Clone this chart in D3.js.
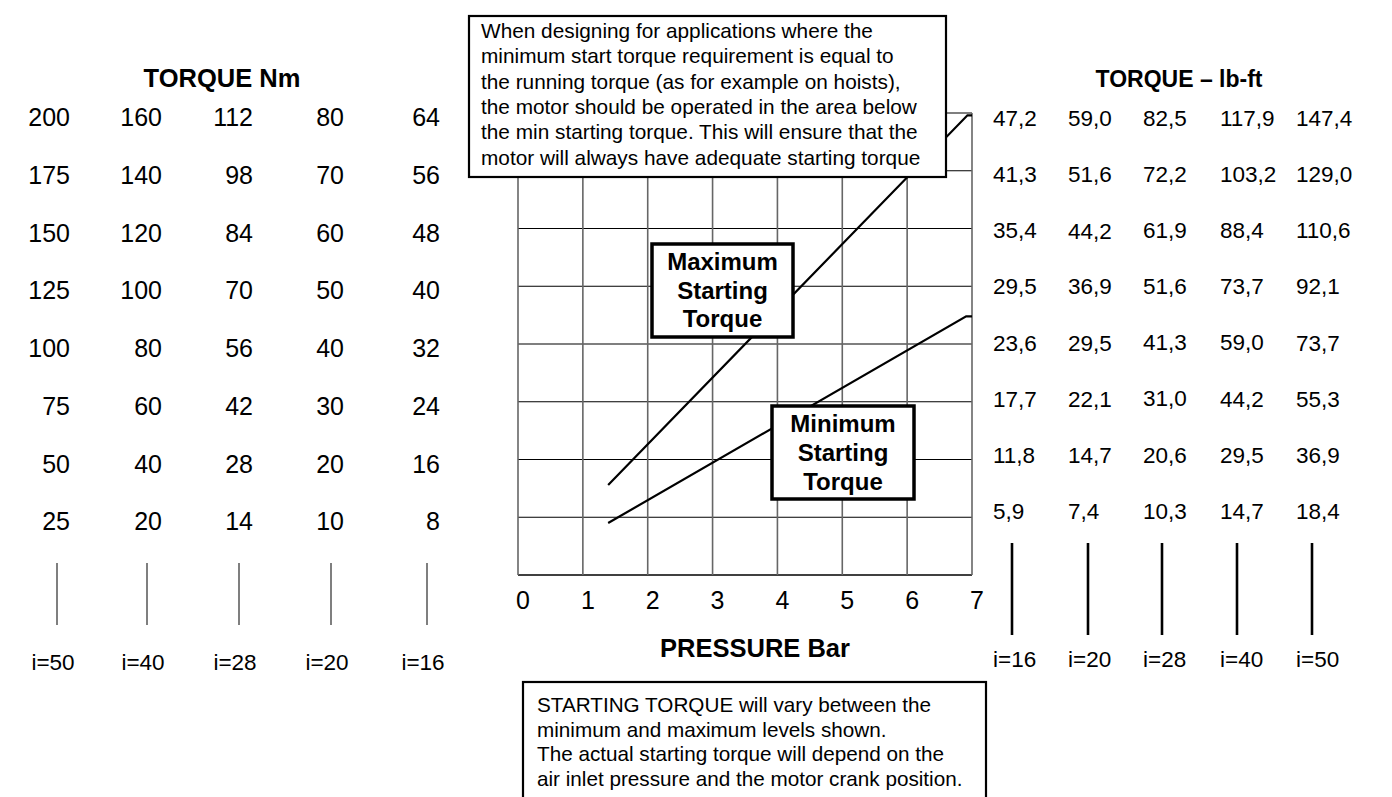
<!DOCTYPE html>
<html>
<head>
<meta charset="utf-8">
<script src="https://cdn.jsdelivr.net/npm/d3@7/dist/d3.min.js"></script>
<style>
  html, body { margin: 0; padding: 0; background: #fff; }
  svg { display: block; font-family: "Liberation Sans", Arial, Helvetica, sans-serif; }
</style>
</head>
<body>
<svg id="chart" width="1392" height="797"></svg>
<script>
// ---------------- DATA ----------------
const pressureTicks = [0, 1, 2, 3, 4, 5, 6, 7];

// Torque Nm columns (left), by gear ratio i
const nmRatios = ["i=50", "i=40", "i=28", "i=20", "i=16"];
const nmI50 = [200, 175, 150, 125, 100, 75, 50, 25];
const nmI40 = [160, 140, 120, 100, 80, 60, 40, 20];
const nmI28 = [112, 98, 84, 70, 56, 42, 28, 14];
const nmI20 = [80, 70, 60, 50, 40, 30, 20, 10];
const nmI16 = [64, 56, 48, 40, 32, 24, 16, 8];

// Torque lb-ft columns (right), by gear ratio i
const lbftRatios = ["i=16", "i=20", "i=28", "i=40", "i=50"];
const lbftI16 = ["47,2", "41,3", "35,4", "29,5", "23,6", "17,7", "11,8", "5,9"];
const lbftI20 = ["59,0", "51,6", "44,2", "36,9", "29,5", "22,1", "14,7", "7,4"];
const lbftI28 = ["82,5", "72,2", "61,9", "51,6", "41,3", "31,0", "20,6", "10,3"];
const lbftI40 = ["117,9", "103,2", "88,4", "73,7", "59,0", "44,2", "29,5", "14,7"];
const lbftI50 = ["147,4", "129,0", "110,6", "92,1", "73,7", "55,3", "36,9", "18,4"];

// Starting torque curves: pressure (bar) vs torque (Nm, i=50 scale)
const maxStartPressure = [1.39, 6.93, 7.0];
const maxStartTorque = [39, 199, 199];
const minStartPressure = [1.39, 6.91, 7.0];
const minStartTorque = [22.5, 112, 112];

const noteTop = [
  "When designing for applications where the",
  "minimum start torque requirement is equal to",
  "the running torque (as for example on hoists),",
  "the motor should be operated in the area below",
  "the min starting torque. This will ensure that the",
  "motor will always have adequate starting torque"
];
const noteBottom = [
  "STARTING TORQUE will vary between the",
  "minimum and maximum levels shown.",
  "The actual starting torque will depend on the",
  "air inlet pressure and the motor crank position."
];

// ---------------- DRAWING ----------------
const svg = d3.select("#chart");
svg.append("rect").attr("width", 1392).attr("height", 797).attr("fill", "#fff");

const x = d3.scaleLinear().domain([0, 7]).range([518, 972]);
const y = d3.scaleLinear().domain([0, 200]).range([575, 113]);
const yTicks = d3.range(0, 201, 25);

const g = svg.append("g");

// horizontal grid lines
g.selectAll("line.h").data(yTicks).join("line")
  .attr("x1", x(0)).attr("x2", x(7))
  .attr("y1", d => y(d)).attr("y2", d => y(d))
  .attr("stroke", "#000").attr("stroke-width", d => d === 0 ? 1.5 : 1.2);

// vertical grid lines
g.selectAll("line.v").data(pressureTicks).join("line")
  .attr("x1", d => x(d)).attr("x2", d => x(d))
  .attr("y1", y(200)).attr("y2", y(0))
  .attr("stroke", "#666").attr("stroke-width", 1.6);

// x tick labels
g.selectAll("text.xt").data(pressureTicks).join("text")
  .attr("x", d => x(d) + 5).attr("y", 609)
  .attr("text-anchor", "middle").attr("font-size", 25).attr("fill", "#000")
  .text(d => d);

svg.append("text").attr("x", 755).attr("y", 657).attr("text-anchor", "middle")
  .attr("font-size", 25.5).attr("font-weight", "bold").text("PRESSURE Bar");

// curves
const line = d3.line().x(d => x(d[0])).y(d => y(d[1]));
const maxPts = maxStartPressure.map((p, i) => [p, maxStartTorque[i]]);
const minPts = minStartPressure.map((p, i) => [p, minStartTorque[i]]);
svg.append("path").attr("d", line(maxPts)).attr("fill", "none").attr("stroke", "#000").attr("stroke-width", 2.2);
svg.append("path").attr("d", line(minPts)).attr("fill", "none").attr("stroke", "#000").attr("stroke-width", 2.2);

// label boxes
function labelBox(bx, by, bw, bh, lines, baselines) {
  svg.append("rect").attr("x", bx).attr("y", by).attr("width", bw).attr("height", bh)
    .attr("fill", "#fff").attr("stroke", "#000").attr("stroke-width", 3.5);
  lines.forEach((t, i) => {
    svg.append("text").attr("x", bx + bw / 2).attr("y", baselines[i])
      .attr("text-anchor", "middle").attr("font-size", 24).attr("font-weight", "bold").text(t);
  });
}
labelBox(652, 244, 141, 93, ["Maximum", "Starting", "Torque"], [270, 299, 327]);
labelBox(772, 406, 142, 93, ["Minimum", "Starting", "Torque"], [432, 461, 490]);

// top note box
svg.append("rect").attr("x", 469).attr("y", 16).attr("width", 477).attr("height", 161)
  .attr("fill", "#fff").attr("stroke", "#000").attr("stroke-width", 2.2);
noteTop.forEach((t, i) => {
  svg.append("text").attr("x", 481).attr("y", 38 + i * 25.3)
    .attr("font-size", 20.8).text(t);
});

// bottom note box
svg.append("rect").attr("x", 523).attr("y", 682).attr("width", 463).attr("height", 140)
  .attr("fill", "#fff").attr("stroke", "#000").attr("stroke-width", 2.2);
noteBottom.forEach((t, i) => {
  svg.append("text").attr("x", 537).attr("y", 712 + i * 24.5)
    .attr("font-size", 20.7).text(t);
});

// ---------- Left Nm columns ----------
svg.append("text").attr("x", 222).attr("y", 87).attr("text-anchor", "middle")
  .attr("font-size", 25.5).attr("font-weight", "bold").text("TORQUE Nm");

const nmCols = [nmI50, nmI40, nmI28, nmI20, nmI16];
const nmRight = [70, 162, 253, 344, 440];
const nmBarX = [57, 147, 239, 331, 427];
const nmLabelX = [53, 143, 235, 327, 423];
nmCols.forEach((vals, c) => {
  const ys = d3.scaleLinear().domain([0, vals[0]]).range([575, 113]);
  svg.selectAll(null).data(vals).join("text")
    .attr("x", nmRight[c]).attr("y", d => ys(d) + 13)
    .attr("text-anchor", "end").attr("font-size", 25).text(d => d);
  svg.append("line").attr("x1", nmBarX[c]).attr("x2", nmBarX[c]).attr("y1", 563).attr("y2", 625)
    .attr("stroke", "#555").attr("stroke-width", 1.5);
  svg.append("text").attr("x", nmLabelX[c]).attr("y", 670).attr("text-anchor", "middle")
    .attr("font-size", 22.5).text(nmRatios[c]);
});

// ---------- Right lb-ft columns ----------
svg.append("text").attr("x", 1179).attr("y", 87).attr("text-anchor", "middle")
  .attr("font-size", 23).attr("font-weight", "bold").text("TORQUE \u2013 lb-ft");

const lbCols = [lbftI16, lbftI20, lbftI28, lbftI40, lbftI50];
const lbLeft = [993, 1068, 1143, 1220, 1296];
const lbBarX = [1012, 1088, 1162, 1237, 1312];
lbCols.forEach((vals, c) => {
  const nums = vals.map(v => +v.replace(",", "."));
  const ys = d3.scaleLinear().domain([0, nums[0]]).range([567, 118]);
  svg.selectAll(null).data(vals).join("text")
    .attr("x", lbLeft[c]).attr("y", (d, i) => ys(nums[i]) + 8)
    .attr("font-size", 22.5).text(d => d);
  svg.append("line").attr("x1", lbBarX[c]).attr("x2", lbBarX[c]).attr("y1", 543).attr("y2", 635)
    .attr("stroke", "#000").attr("stroke-width", 2.6);
  svg.append("text").attr("x", lbLeft[c]).attr("y", 667).attr("font-size", 22.5).text(lbftRatios[c]);
});
</script>
</body>
</html>
